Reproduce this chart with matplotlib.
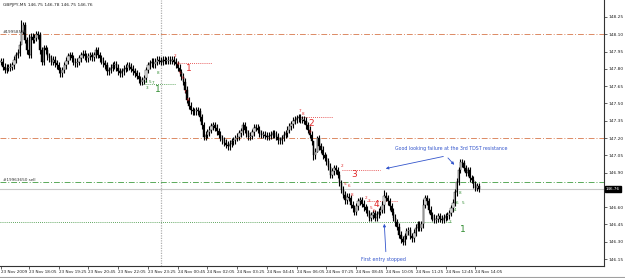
import matplotlib.pyplot as plt
import numpy as np

# GBPJPY M5 closes, one per bar (bar 0 = 23 Nov 16:50)
closes = [
    147.86, 147.82, 147.79, 147.81, 147.81, 147.82, 147.83, 147.88, 147.92, 147.94,
    148.01, 148.12, 148.18, 148.05, 147.96, 147.92, 148.08, 148.05, 148.07, 148.10,
    148.09, 147.96, 147.86, 147.98, 147.96, 147.91, 147.89, 147.86, 147.88, 147.85,
    147.83, 147.79, 147.76, 147.79, 147.83, 147.87, 147.91, 147.92, 147.89, 147.86,
    147.85, 147.86, 147.89, 147.92, 147.93, 147.91, 147.89, 147.91, 147.92, 147.90,
    147.92, 147.96, 147.92, 147.89, 147.87, 147.85, 147.83, 147.78, 147.79, 147.81,
    147.83, 147.84, 147.81, 147.78, 147.76, 147.78, 147.80, 147.81, 147.83, 147.82,
    147.80, 147.78, 147.76, 147.74, 147.71, 147.69, 147.70, 147.72, 147.79, 147.83,
    147.85, 147.86, 147.84, 147.86, 147.88, 147.87, 147.86, 147.88, 147.87, 147.87,
    147.88, 147.87, 147.88, 147.86, 147.84, 147.81, 147.77, 147.73, 147.69, 147.62,
    147.53, 147.48, 147.44, 147.43, 147.43, 147.44, 147.43, 147.38, 147.31, 147.21,
    147.23, 147.25, 147.27, 147.30, 147.31, 147.29, 147.26, 147.23, 147.20, 147.18,
    147.16, 147.14, 147.13, 147.15, 147.17, 147.18, 147.20, 147.21, 147.24, 147.26,
    147.31, 147.27, 147.24, 147.21, 147.22, 147.25, 147.29, 147.29, 147.27, 147.24,
    147.23, 147.23, 147.22, 147.21, 147.22, 147.23, 147.24, 147.23, 147.21, 147.18,
    147.18, 147.20, 147.23, 147.24, 147.27, 147.30, 147.32, 147.35, 147.36, 147.37,
    147.38, 147.36, 147.36, 147.35, 147.31, 147.27, 147.23, 147.17, 147.05, 147.08,
    147.20, 147.13, 147.10, 147.05, 147.03, 147.00, 146.95, 146.88, 146.91, 146.94,
    146.92, 146.88, 146.81, 146.75, 146.71, 146.66, 146.69, 146.68, 146.62, 146.59,
    146.56, 146.61, 146.65, 146.66, 146.63, 146.60, 146.58, 146.55, 146.51, 146.53,
    146.55, 146.51, 146.54, 146.56, 146.58, 146.62, 146.70, 146.68, 146.65, 146.61,
    146.56, 146.51, 146.47, 146.43, 146.36, 146.32, 146.30, 146.35, 146.39, 146.40,
    146.35, 146.33, 146.38, 146.42, 146.45, 146.42, 146.45, 146.62, 146.68, 146.65,
    146.58, 146.53, 146.51, 146.49, 146.50, 146.52, 146.50, 146.49, 146.51, 146.52,
    146.53, 146.55, 146.59, 146.64, 146.73, 146.82, 146.92, 146.99, 146.98, 146.94,
    146.90, 146.92, 146.85, 146.84, 146.80, 146.77, 146.78, 146.76,
]
# a few bars with long shadows: (bar, high, low)
spikes = [(11, 148.22, 148.02), (12, 148.21, 148.10), (15, 148.10, 147.89),
          (168, 147.17, 147.01), (170, 147.22, 147.08), (206, 146.75, 146.55),
          (227, 146.67, 146.42), (247, 147.02, 146.90)]

xtick_bars = [0, 15, 31, 47, 63, 79, 95, 111, 127, 143, 159, 175, 191, 207, 223, 239, 255]
xtick_labels = ["23 Nov 2009", "23 Nov 18:05", "23 Nov 19:25", "23 Nov 20:45", "23 Nov 22:05",
                "23 Nov 23:25", "24 Nov 00:45", "24 Nov 02:05", "24 Nov 03:25", "24 Nov 04:45",
                "24 Nov 06:05", "24 Nov 07:25", "24 Nov 08:45", "24 Nov 10:05", "24 Nov 11:25",
                "24 Nov 12:45", "24 Nov 14:05"]
yticks = [148.25, 148.10, 147.95, 147.80, 147.65, 147.50, 147.35, 147.20, 147.05,
          146.90, 146.75, 146.60, 146.45, 146.30, 146.15]
bid = 146.76
separator_bar = 86  # 24 Nov 00:00

# TDST levels: (start bar, end bar, price)
tdst_red = [(94.7, 113.5, 147.85), (161, 178.5, 147.38), (183.4, 203.8, 146.92), (197, 213.5, 146.655)]
tdst_green = [(76.4, 93.6, 147.67), (-0.5, 242.5, 146.47)]
# setup numbers
big_red = [(101, 147.80, "1"), (167, 147.33, "2"), (190, 146.88, "3"), (202, 146.62, "4")]
big_green = [(84.4, 147.62, "1"), (248.4, 146.41, "1")]
small_red = [(93.6, 147.91, "2"), (95.2, 147.84, "3"), (96.3, 147.76, "5"), (97.9, 147.72, "6"),
             (99, 147.60, "7"), (100.6, 147.53, "8"), (160.8, 147.43, "7"), (162.4, 147.41, "8"),
             (166.2, 147.25, "9"), (183.4, 146.96, "2"), (185, 146.80, "5"), (187.1, 146.78, "6"),
             (188.8, 146.71, "8"), (196.3, 146.68, "2"), (197.9, 146.65, "3"), (199, 146.59, "5"),
             (200.6, 146.57, "6")]
small_green = [(78, 147.69, "4"), (80.1, 147.69, "5"), (81.8, 147.68, "7"), (78.5, 147.63, "3"),
               (84.4, 147.76, "8"), (241.4, 146.47, "2"), (244.1, 146.58, "4"), (245.2, 146.64, "6"),
               (248.4, 146.64, "5"), (246.8, 146.72, "8")]

RED = "#e02828"
GREEN = "#2e8b2e"
BLUE = "#3355cc"
ORANGE = "#dc8a64"

closes = np.array(closes)
opens = np.concatenate([[closes[0]], closes[:-1]])
highs = np.maximum(opens, closes) + 0.03
lows = np.minimum(opens, closes) - 0.03
for b, h, l in spikes:
    highs[b] = h
    lows[b] = l
idx = np.arange(len(closes))

fig = plt.figure(figsize=(6.25, 2.78), dpi=100)
ax = fig.add_axes([0, 12 / 278, 604 / 625, 266 / 278])
ax.set_xlim(-0.5, 324.2)
ax.set_ylim(146.09, 148.397)

ax.vlines(idx, lows, highs, color="black", lw=0.8, zorder=3)
up = closes >= opens
body = np.maximum(np.abs(closes - opens), 0.004)
ax.bar(idx[up], body[up], bottom=opens[up], width=0.7, color="white", edgecolor="black", lw=0.3, zorder=4)
ax.bar(idx[~up], body[~up], bottom=closes[~up], width=0.7, color="black", edgecolor="black", lw=0.3, zorder=4)

# levels
for lvl in (148.10, 147.20):
    ax.axhline(lvl, color=ORANGE, lw=0.7, ls=(0, (6, 2, 1, 2)), zorder=2)
ax.axhline(146.82, color="#5aaa5a", lw=0.7, ls=(0, (6, 2, 1, 2)), zorder=2)
ax.axhline(bid, color="#c8c8c8", lw=0.8, zorder=1)
ax.axvline(separator_bar, color="#b0b0b0", lw=0.9, ls=(0, (1, 1)), zorder=1)
ax.text(1, 148.12, "#19958586", fontsize=3, color="#333333", va="center", zorder=5)
ax.text(1, 146.835, "#19963650 sell", fontsize=3, color="#333333", va="center", zorder=5)

for x0, x1, p in tdst_red:
    ax.hlines(p, x0, x1, color=RED, lw=0.6, ls=(0, (1, 1.5)), zorder=2)
for x0, x1, p in tdst_green:
    ax.hlines(p, x0, x1, color=GREEN, lw=0.6, ls=(0, (1, 1.5)), zorder=2)
for b, p, t in big_red:
    ax.text(b, p, t, color=RED, fontsize=6.5, ha="center", va="center", zorder=6)
for b, p, t in big_green:
    ax.text(b, p, t, color=GREEN, fontsize=6.5, ha="center", va="center", zorder=6)
for b, p, t in small_red:
    ax.text(b, p, t, color=RED, fontsize=3, ha="center", va="center", zorder=6)
for b, p, t in small_green:
    ax.text(b, p, t, color=GREEN, fontsize=3, ha="center", va="center", zorder=6)

# comments
ax.text(242, 147.105, "Good looking failure at the 3rd TDST resistance", color=BLUE,
        fontsize=3.4, ha="center", va="center", zorder=6)
arrow = dict(arrowstyle="-|>", color=BLUE, lw=0.6, mutation_scale=4)
ax.annotate("", xy=(205.4, 146.93), xytext=(239.3, 147.045), arrowprops=arrow, zorder=6)
ax.annotate("", xy=(244.7, 146.95), xytext=(239.3, 147.045), arrowprops=arrow, zorder=6)
ax.text(205.4, 146.15, "First entry stopped", color=BLUE, fontsize=3.4, ha="center", va="center", zorder=6)
ax.annotate("", xy=(206, 146.48), xytext=(207, 146.19), arrowprops=arrow, zorder=6)

# axes look
for s in ("top", "left"):
    ax.spines[s].set_visible(False)
for s in ("right", "bottom"):
    ax.spines[s].set_color("#333333")
    ax.spines[s].set_linewidth(0.8)
ax.yaxis.tick_right()
ax.set_yticks(yticks)
ax.set_yticklabels(["" if t == 146.75 else f"{t:.2f}" for t in yticks])
ax.tick_params(axis="y", labelsize=3.2, length=2, width=0.5, pad=1, colors="#222222")
ax.set_xticks(xtick_bars)
ax.set_xticklabels(xtick_labels, ha="left")
ax.tick_params(axis="x", labelsize=3, length=2, width=0.5, pad=1, colors="#222222")
ax.text(1.003, bid, f"{bid:.2f}", transform=ax.get_yaxis_transform(), color="white", fontsize=3,
        va="center", ha="left", bbox=dict(facecolor="black", edgecolor="black", pad=0.6), zorder=7)

fig.text(3 / 625, 1 - 5 / 278, "GBPJPY,M5 146.75 146.78 146.75 146.76", fontsize=3.2,
         color="#222222", va="center", ha="left")
fig.add_artist(plt.Line2D([0, 1], [1.5 / 278, 1.5 / 278], color="#a0a0a0", lw=0.8))

fig.savefig("out.png", dpi=100, facecolor="white")
